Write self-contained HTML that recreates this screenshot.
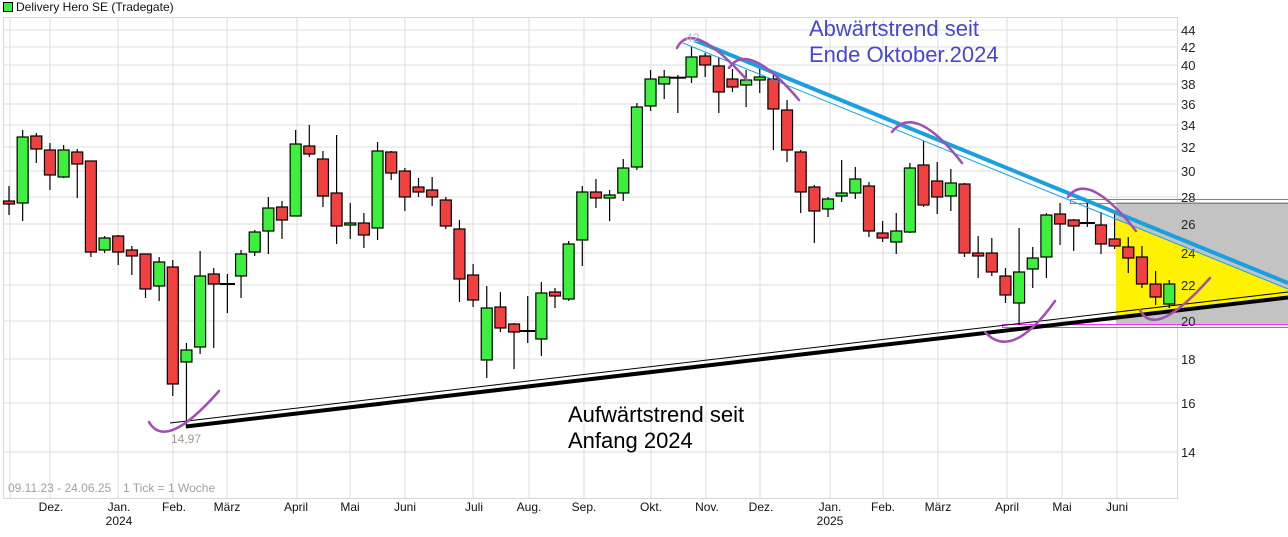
<!DOCTYPE html>
<html><head><meta charset="utf-8"><style>
html,body{margin:0;padding:0;background:#fff;}
svg{display:block;font-family:"Liberation Sans",Arial,sans-serif;}
.g{stroke:#dcdcdc;stroke-width:1;}
.w{stroke:#000;stroke-width:1.2;}
.up{fill:#3ef03e;stroke:#000;stroke-width:1.2;}
.dn{fill:#f04040;stroke:#000;stroke-width:1.2;}
.yl{font-size:13px;fill:#222;}
.ml{font-size:12px;fill:#111;text-anchor:middle;}
.arc{fill:none;stroke:#a050b0;stroke-width:2.5;stroke-linecap:round;}
</style></head><body>
<svg width="1288" height="537" viewBox="0 0 1288 537" xmlns="http://www.w3.org/2000/svg">
<rect x="0" y="0" width="1288" height="537" fill="#fff"/>
<rect x="3.5" y="2.5" width="9" height="9" fill="#3ef03e" stroke="#000"/>
<text x="16" y="11" font-size="12" fill="#111">Delivery Hero SE (Tradegate)</text>
<g class="g">
<line x1="3" y1="30" x2="1177" y2="30"/><line x1="3" y1="47" x2="1177" y2="47"/>
<line x1="3" y1="65" x2="1177" y2="65"/><line x1="3" y1="84" x2="1177" y2="84"/>
<line x1="3" y1="104" x2="1177" y2="104"/><line x1="3" y1="125" x2="1177" y2="125"/>
<line x1="3" y1="147" x2="1177" y2="147"/><line x1="3" y1="171" x2="1177" y2="171"/>
<line x1="3" y1="197" x2="1177" y2="197"/><line x1="3" y1="224" x2="1177" y2="224"/>
<line x1="3" y1="253" x2="1177" y2="253"/><line x1="3" y1="285" x2="1177" y2="285"/>
<line x1="3" y1="321" x2="1177" y2="321"/><line x1="3" y1="359" x2="1177" y2="359"/>
<line x1="3" y1="403" x2="1177" y2="403"/><line x1="3" y1="452" x2="1177" y2="452"/>
<line x1="10" y1="17" x2="10" y2="498"/><line x1="50" y1="17" x2="50" y2="498"/>
<line x1="118" y1="17" x2="118" y2="498"/><line x1="173" y1="17" x2="173" y2="498"/>
<line x1="227" y1="17" x2="227" y2="498"/><line x1="297" y1="17" x2="297" y2="498"/>
<line x1="350" y1="17" x2="350" y2="498"/><line x1="405" y1="17" x2="405" y2="498"/>
<line x1="473" y1="17" x2="473" y2="498"/><line x1="529" y1="17" x2="529" y2="498"/>
<line x1="584" y1="17" x2="584" y2="498"/><line x1="651" y1="17" x2="651" y2="498"/>
<line x1="706" y1="17" x2="706" y2="498"/><line x1="760" y1="17" x2="760" y2="498"/>
<line x1="830" y1="17" x2="830" y2="498"/><line x1="883" y1="17" x2="883" y2="498"/>
<line x1="938" y1="17" x2="938" y2="498"/><line x1="1007" y1="17" x2="1007" y2="498"/>
<line x1="1062" y1="17" x2="1062" y2="498"/><line x1="1117" y1="17" x2="1117" y2="498"/>
</g>
<rect x="3.5" y="17.5" width="1174" height="481" fill="none" stroke="#d8d8d8"/>
<rect x="1116" y="202" width="172" height="123" fill="#c3c3c3"/>
<polygon points="1116,219 1288,289 1288,297 1116,317" fill="#fff200"/>
<rect x="1070.5" y="199.5" width="218" height="4" fill="none" stroke="#ff30ff" stroke-width="1"/>
<rect x="1002.5" y="324.5" width="286" height="3" fill="none" stroke="#ff30ff" stroke-width="1"/>
<g class="yl">
<text x="1181" y="35">44</text><text x="1181" y="52">42</text><text x="1181" y="70">40</text>
<text x="1181" y="89">38</text><text x="1181" y="109">36</text><text x="1181" y="130">34</text>
<text x="1181" y="152">32</text><text x="1181" y="176">30</text><text x="1181" y="202">28</text>
<text x="1181" y="229">26</text><text x="1181" y="258">24</text><text x="1181" y="290">22</text>
<text x="1181" y="326">20</text><text x="1181" y="364">18</text><text x="1181" y="408">16</text>
<text x="1181" y="457">14</text>
</g>
<g class="w">
<line x1="9" y1="186" x2="9" y2="215"/><line x1="22.65" y1="130" x2="22.65" y2="221"/>
<line x1="36.3" y1="133" x2="36.3" y2="163"/><line x1="49.95" y1="143" x2="49.95" y2="190"/>
<line x1="63.6" y1="145" x2="63.6" y2="178"/><line x1="77.25" y1="149" x2="77.25" y2="198"/>
<line x1="90.9" y1="161" x2="90.9" y2="257"/><line x1="104.55" y1="236" x2="104.55" y2="253"/>
<line x1="118.2" y1="235" x2="118.2" y2="265"/><line x1="131.85" y1="246" x2="131.85" y2="275"/>
<line x1="145.5" y1="254" x2="145.5" y2="298"/><line x1="159.15" y1="257" x2="159.15" y2="301"/>
<line x1="172.8" y1="260" x2="172.8" y2="396"/><line x1="186.45" y1="343" x2="186.45" y2="428"/>
<line x1="200.1" y1="251" x2="200.1" y2="354"/><line x1="213.75" y1="268" x2="213.75" y2="348"/>
<line x1="227.4" y1="274" x2="227.4" y2="313"/><line x1="220" y1="284" x2="235" y2="284" stroke-width="2"/>
<line x1="241.05" y1="250" x2="241.05" y2="298"/><line x1="254.7" y1="230" x2="254.7" y2="256"/>
<line x1="268.35" y1="197" x2="268.35" y2="254"/><line x1="282" y1="201" x2="282" y2="239"/>
<line x1="295.65" y1="130" x2="295.65" y2="216"/><line x1="309.3" y1="125" x2="309.3" y2="157"/>
<line x1="322.95" y1="151" x2="322.95" y2="207"/><line x1="336.6" y1="135" x2="336.6" y2="244"/>
<line x1="350.25" y1="203" x2="350.25" y2="239"/><line x1="363.9" y1="213" x2="363.9" y2="248"/>
<line x1="377.55" y1="142" x2="377.55" y2="240"/><line x1="391.2" y1="151" x2="391.2" y2="180"/>
<line x1="404.85" y1="168" x2="404.85" y2="211"/><line x1="418.5" y1="178" x2="418.5" y2="197"/>
<line x1="432.15" y1="177" x2="432.15" y2="206"/><line x1="445.8" y1="197" x2="445.8" y2="229"/>
<line x1="459.45" y1="220" x2="459.45" y2="302"/><line x1="473.1" y1="264" x2="473.1" y2="307"/>
<line x1="486.75" y1="286" x2="486.75" y2="378"/><line x1="500.4" y1="292" x2="500.4" y2="332"/>
<line x1="514.05" y1="323" x2="514.05" y2="369"/><line x1="527.7" y1="296" x2="527.7" y2="343"/>
<line x1="520" y1="331" x2="535" y2="331" stroke-width="2"/>
<line x1="541.35" y1="282" x2="541.35" y2="356"/><line x1="555" y1="288" x2="555" y2="308"/>
<line x1="568.65" y1="241" x2="568.65" y2="301"/><line x1="582.3" y1="186" x2="582.3" y2="266"/>
<line x1="595.95" y1="179" x2="595.95" y2="208"/><line x1="609.6" y1="190" x2="609.6" y2="221"/>
<line x1="623.25" y1="159" x2="623.25" y2="201"/><line x1="636.9" y1="103" x2="636.9" y2="170"/>
<line x1="650.55" y1="70" x2="650.55" y2="111"/><line x1="664.2" y1="70" x2="664.2" y2="99"/>
<line x1="677.85" y1="75" x2="677.85" y2="113"/><line x1="670" y1="77.7" x2="686" y2="77.7" stroke-width="2"/>
<line x1="691.5" y1="47" x2="691.5" y2="83"/><line x1="705.15" y1="53" x2="705.15" y2="77"/>
<line x1="718.8" y1="57" x2="718.8" y2="113"/><line x1="732.45" y1="69" x2="732.45" y2="92"/>
<line x1="746.1" y1="70" x2="746.1" y2="107"/><line x1="759.75" y1="68" x2="759.75" y2="93"/>
<line x1="773.4" y1="75" x2="773.4" y2="150"/><line x1="787.05" y1="100" x2="787.05" y2="162"/>
<line x1="800.7" y1="150" x2="800.7" y2="213"/><line x1="814.35" y1="185" x2="814.35" y2="243"/>
<line x1="828" y1="197" x2="828" y2="217"/><line x1="841.65" y1="160" x2="841.65" y2="202"/>
<line x1="855.3" y1="167" x2="855.3" y2="199"/><line x1="868.95" y1="182" x2="868.95" y2="237"/>
<line x1="882.6" y1="221" x2="882.6" y2="242"/><line x1="896.25" y1="213" x2="896.25" y2="254"/>
<line x1="909.9" y1="163" x2="909.9" y2="233"/><line x1="923.55" y1="141" x2="923.55" y2="207"/>
<line x1="937.2" y1="162" x2="937.2" y2="214"/><line x1="950.85" y1="169" x2="950.85" y2="211"/>
<line x1="964.5" y1="183" x2="964.5" y2="257"/><line x1="978.15" y1="236" x2="978.15" y2="278"/>
<line x1="991.8" y1="238" x2="991.8" y2="276"/><line x1="1005.45" y1="268" x2="1005.45" y2="303"/>
<line x1="1019.1" y1="228" x2="1019.1" y2="325"/><line x1="1032.75" y1="247" x2="1032.75" y2="288"/>
<line x1="1046.4" y1="213" x2="1046.4" y2="278"/><line x1="1060.05" y1="203" x2="1060.05" y2="245"/>
<line x1="1073.7" y1="219" x2="1073.7" y2="251"/><line x1="1087.35" y1="199" x2="1087.35" y2="227"/>
<line x1="1080" y1="223" x2="1095" y2="223" stroke-width="2"/>
<line x1="1101" y1="212" x2="1101" y2="254"/><line x1="1114.65" y1="213" x2="1114.65" y2="249"/>
<line x1="1128.3" y1="237" x2="1128.3" y2="273"/><line x1="1141.95" y1="246" x2="1141.95" y2="288"/>
<line x1="1155.6" y1="271" x2="1155.6" y2="305"/><line x1="1169.25" y1="280" x2="1169.25" y2="308"/>
</g>
<g>
<rect class="dn" x="3.5" y="201" width="11" height="3"/>
<rect class="up" x="17.15" y="137" width="11" height="66"/>
<rect class="dn" x="30.8" y="136" width="11" height="13"/>
<rect class="dn" x="44.45" y="150" width="11" height="25"/>
<rect class="up" x="58.1" y="150" width="11" height="27"/>
<rect class="dn" x="71.75" y="152" width="11" height="12"/>
<rect class="dn" x="85.4" y="161" width="11" height="91"/>
<rect class="up" x="99.05" y="238" width="11" height="12"/>
<rect class="dn" x="112.7" y="236" width="11" height="16"/>
<rect class="dn" x="126.35" y="250" width="11" height="6"/>
<rect class="dn" x="140" y="254" width="11" height="35"/>
<rect class="up" x="153.65" y="262" width="11" height="24"/>
<rect class="dn" x="167.3" y="267" width="11" height="117"/>
<rect class="up" x="180.95" y="350" width="11" height="12"/>
<rect class="up" x="194.6" y="276" width="11" height="71"/>
<rect class="dn" x="208.25" y="274" width="11" height="10"/>
<rect class="up" x="235.55" y="254" width="11" height="22"/>
<rect class="up" x="249.2" y="232" width="11" height="20"/>
<rect class="up" x="262.85" y="208" width="11" height="23"/>
<rect class="dn" x="276.5" y="207" width="11" height="13"/>
<rect class="up" x="290.15" y="144" width="11" height="72"/>
<rect class="dn" x="303.8" y="146" width="11" height="8"/>
<rect class="dn" x="317.45" y="159" width="11" height="37"/>
<rect class="dn" x="331.1" y="193" width="11" height="33"/>
<rect class="up" x="344.75" y="223" width="11" height="2"/>
<rect class="dn" x="358.4" y="223" width="11" height="12"/>
<rect class="up" x="372.05" y="151" width="11" height="77"/>
<rect class="dn" x="385.7" y="152" width="11" height="21"/>
<rect class="dn" x="399.35" y="171" width="11" height="26"/>
<rect class="dn" x="413" y="187" width="11" height="5"/>
<rect class="dn" x="426.65" y="190" width="11" height="7"/>
<rect class="dn" x="440.3" y="200" width="11" height="26"/>
<rect class="dn" x="453.95" y="229" width="11" height="50"/>
<rect class="dn" x="467.6" y="275" width="11" height="25"/>
<rect class="up" x="481.25" y="308" width="11" height="52"/>
<rect class="dn" x="494.9" y="307" width="11" height="21"/>
<rect class="dn" x="508.55" y="324" width="11" height="8"/>
<rect class="up" x="535.85" y="293" width="11" height="46"/>
<rect class="dn" x="549.5" y="292" width="11" height="4"/>
<rect class="up" x="563.15" y="244" width="11" height="55"/>
<rect class="up" x="576.8" y="192" width="11" height="48"/>
<rect class="dn" x="590.45" y="192" width="11" height="6"/>
<rect class="up" x="604.1" y="195" width="11" height="3"/>
<rect class="up" x="617.75" y="168" width="11" height="25"/>
<rect class="up" x="631.4" y="107" width="11" height="60"/>
<rect class="up" x="645.05" y="79" width="11" height="27"/>
<rect class="up" x="658.7" y="77" width="11" height="7"/>
<rect class="up" x="686" y="57" width="11" height="20"/>
<rect class="dn" x="699.65" y="56" width="11" height="9"/>
<rect class="dn" x="713.3" y="66" width="11" height="26"/>
<rect class="dn" x="726.95" y="79" width="11" height="8"/>
<rect class="up" x="740.6" y="80" width="11" height="5"/>
<rect class="up" x="754.25" y="77" width="11" height="3"/>
<rect class="dn" x="767.9" y="79" width="11" height="30"/>
<rect class="dn" x="781.55" y="110" width="11" height="40"/>
<rect class="dn" x="795.2" y="152" width="11" height="40"/>
<rect class="dn" x="808.85" y="187" width="11" height="24"/>
<rect class="up" x="822.5" y="199" width="11" height="10"/>
<rect class="up" x="836.15" y="193" width="11" height="3"/>
<rect class="up" x="849.8" y="179" width="11" height="14"/>
<rect class="dn" x="863.45" y="186" width="11" height="45"/>
<rect class="dn" x="877.1" y="233" width="11" height="5"/>
<rect class="up" x="890.75" y="231" width="11" height="11"/>
<rect class="up" x="904.4" y="168" width="11" height="64"/>
<rect class="dn" x="918.05" y="165" width="11" height="40"/>
<rect class="dn" x="931.7" y="181" width="11" height="16"/>
<rect class="up" x="945.35" y="183" width="11" height="13"/>
<rect class="dn" x="959" y="184" width="11" height="69"/>
<rect class="dn" x="972.65" y="253" width="11" height="3"/>
<rect class="dn" x="986.3" y="253" width="11" height="19"/>
<rect class="dn" x="999.95" y="276" width="11" height="19"/>
<rect class="up" x="1013.6" y="272" width="11" height="31"/>
<rect class="up" x="1027.25" y="258" width="11" height="11"/>
<rect class="up" x="1040.9" y="215" width="11" height="42"/>
<rect class="dn" x="1054.55" y="214" width="11" height="10"/>
<rect class="dn" x="1068.2" y="220" width="11" height="6"/>
<rect class="dn" x="1095.5" y="225" width="11" height="19"/>
<rect class="dn" x="1109.15" y="239" width="11" height="7"/>
<rect class="dn" x="1122.8" y="247" width="11" height="11"/>
<rect class="dn" x="1136.45" y="257" width="11" height="27"/>
<rect class="dn" x="1150.1" y="284" width="11" height="13"/>
<rect class="up" x="1163.75" y="284" width="11" height="20"/>
</g>
<line x1="170" y1="423" x2="1288" y2="292" stroke="#000" stroke-width="1"/>
<line x1="186" y1="426.5" x2="1288" y2="297.5" stroke="#000" stroke-width="4"/>
<line x1="683" y1="43" x2="1288" y2="289" stroke="#1aa0e0" stroke-width="1"/>
<line x1="694" y1="40" x2="1288" y2="283" stroke="#1aa0e0" stroke-width="4"/>
<path class="arc" d="M149,422 Q166,451.5 219,391"/>
<path class="arc" d="M677,48 Q692,18 747,80"/>
<path class="arc" d="M729,68 Q748,40 799,100"/>
<path class="arc" d="M892,132 Q915,102.5 962,163"/>
<path class="arc" d="M1068,197 Q1088,170 1136,231"/>
<path class="arc" d="M985,332 Q1012,361.5 1055,301"/>
<path class="arc" d="M1140,310 Q1155,340 1210,278"/>
<text x="686" y="42" font-size="12" fill="#b8b8c8">42</text>
<text x="171" y="443" font-size="12" fill="#a89890">14,97</text>
<text x="809" y="36" font-size="22" fill="#4545d8">Abwärtstrend seit</text>
<text x="809" y="62" font-size="22" fill="#4545d8">Ende Oktober.2024</text>
<text x="568" y="422" font-size="22" fill="#000">Aufwärtstrend seit</text>
<text x="568" y="448" font-size="22" fill="#000">Anfang 2024</text>
<text x="8" y="492" font-size="12" fill="#a0a0a8">09.11.23 - 24.06.25</text>
<text x="123" y="492" font-size="12" fill="#a0a0a8">1 Tick = 1 Woche</text>
<g class="ml">
<text x="51" y="511">Dez.</text><text x="119" y="511">Jan.</text><text x="119" y="525">2024</text>
<text x="174" y="511">Feb.</text><text x="227" y="511">März</text><text x="296" y="511">April</text>
<text x="350" y="511">Mai</text><text x="405" y="511">Juni</text><text x="474" y="511">Juli</text>
<text x="529" y="511">Aug.</text><text x="584" y="511">Sep.</text><text x="651" y="511">Okt.</text>
<text x="707" y="511">Nov.</text><text x="761" y="511">Dez.</text><text x="830" y="511">Jan.</text>
<text x="830" y="525">2025</text><text x="883" y="511">Feb.</text><text x="938" y="511">März</text>
<text x="1007" y="511">April</text><text x="1062" y="511">Mai</text><text x="1117" y="511">Juni</text>
</g>
</svg>
</body></html>
